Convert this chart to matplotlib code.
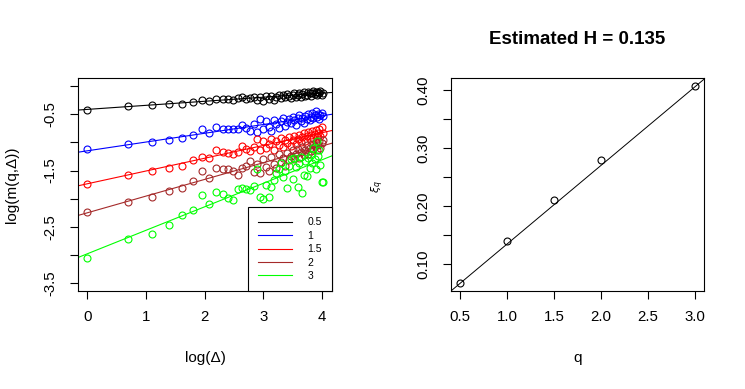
import numpy as np
import matplotlib
matplotlib.use("Agg")
import matplotlib.pyplot as plt
from matplotlib.ticker import FixedLocator

plt.rcParams['font.family'] = ['Liberation Sans', 'DejaVu Sans']
plt.rcParams['axes.unicode_minus'] = False

# ---- data ----
lags = list(range(1, 56))
q_levels = ['0.5', '1', '1.5', '2', '3']
colors = ['black', 'blue', 'red', 'brown', '#00FF00']

m_q05 = [-0.42, -0.36, -0.34, -0.32, -0.31, -0.28, -0.24, -0.27, -0.22, -0.22,
         -0.22, -0.25, -0.21, -0.19, -0.23, -0.21, -0.19, -0.25, -0.20, -0.27,
         -0.17, -0.22, -0.18, -0.24, -0.19, -0.15, -0.21, -0.16, -0.20, -0.14,
         -0.18, -0.21, -0.15, -0.12, -0.19, -0.16, -0.13, -0.20, -0.14, -0.11,
         -0.17, -0.15, -0.10, -0.13, -0.18, -0.12, -0.09, -0.14, -0.11, -0.16,
         -0.10, -0.13, -0.09, -0.15, -0.12]
m_q1 = [-1.12, -1.03, -1.00, -0.96, -0.92, -0.87, -0.77, -0.83, -0.73, -0.76,
        -0.77, -0.77, -0.76, -0.69, -0.75, -0.79, -0.67, -0.82, -0.58, -0.76,
        -0.62, -0.72, -0.79, -0.60, -0.68, -0.74, -0.62, -0.57, -0.70, -0.63,
        -0.58, -0.66, -0.55, -0.61, -0.69, -0.57, -0.52, -0.62, -0.56, -0.65,
        -0.53, -0.58, -0.50, -0.61, -0.55, -0.48, -0.57, -0.52, -0.45, -0.55,
        -0.49, -0.58, -0.51, -0.47, -0.53]
m_q15 = [-1.73, -1.58, -1.51, -1.45, -1.42, -1.31, -1.26, -1.28, -1.13, -1.17,
         -1.19, -1.20, -1.17, -1.07, -1.11, -1.15, -1.08, -0.94, -1.14, -0.97,
         -1.10, -1.02, -0.93, -1.13, -0.98, -1.05, -0.92, -1.08, -0.96, -1.01,
         -0.90, -1.06, -0.95, -0.88, -1.02, -0.93, -0.86, -0.99, -0.91, -0.84,
         -0.97, -0.89, -0.82, -0.94, -0.87, -0.80, -0.92, -0.85, -0.78, -0.90,
         -0.83, -0.76, -0.88, -0.72, -0.84]
m_q2 = [-2.24, -2.05, -1.96, -1.87, -1.80, -1.69, -1.51, -1.63, -1.45, -1.47,
        -1.48, -1.51, -1.57, -1.45, -1.41, -1.33, -1.52, -1.38, -1.55, -1.30,
        -1.44, -1.50, -1.25, -1.39, -1.46, -1.20, -1.35, -1.27, -1.41, -1.19,
        -1.32, -1.24, -1.14, -1.30, -1.21, -1.11, -1.27, -1.17, -1.08, -1.23,
        -1.13, -1.05, -1.20, -1.10, -1.16, -1.02, -1.12, -1.07, -0.99, -1.14,
        -1.04, -0.97, -1.10, -1.01, -0.95]
m_q3 = [-3.06, -2.72, -2.63, -2.47, -2.29, -2.20, -1.94, -2.09, -1.88, -1.92,
        -1.99, -2.02, -1.82, -1.80, -1.83, -1.84, -1.78, -1.47, -1.96, -2.01,
        -1.75, -1.96, -1.79, -1.66, -1.55, -1.47, -1.36, -1.62, -1.50, -1.81,
        -1.42, -1.30, -1.64, -1.27, -1.44, -1.79, -1.37, -1.25, -1.89, -1.58,
        -1.33, -1.60, -1.28, -1.46, -1.22, -1.36, -1.10, -1.30, -1.48, -0.98,
        -1.24, -1.14, -1.40, -1.70, -1.71]
series = [m_q05, m_q1, m_q15, m_q2, m_q3]

q_vals = [0.5, 1.0, 1.5, 2.0, 3.0]
zeta_q = [0.0675, 0.140, 0.210, 0.2795, 0.407]
H_est = 0.135

# ---- figure ----
W, Hpx = 745, 389
fig = plt.figure(figsize=(W / 100, Hpx / 100), dpi=100)

def ax_rect(x0, y0, x1, y1):
    return [x0 / W, 1 - y1 / Hpx, (x1 - x0) / W, (y1 - y0) / Hpx]

ax1 = fig.add_axes(ax_rect(78, 78, 332, 291))
ax2 = fig.add_axes(ax_rect(451, 78, 704, 291))

tick_fs = 10.8
lab_fs = 11

x = np.log(np.array(lags, dtype=float))
for vals, col, lab in zip(series, colors, q_levels):
    y = np.array(vals)
    ax1.plot(x, y, linestyle='none', marker='o', markerfacecolor='none',
             markeredgecolor=col, markersize=5.0, markeredgewidth=0.8)
    slope, icpt = np.polyfit(x, y, 1)
    ax1.axline((0, icpt), slope=slope, color=col, lw=0.8, label=lab)

ax1.set_xlim(-0.16, 4.167)
ax1.set_ylim(-3.637, 0.144)
ax1.xaxis.set_major_locator(FixedLocator([0, 1, 2, 3, 4]))
yt = [0, -0.5, -1, -1.5, -2, -2.5, -3, -3.5]
ax1.yaxis.set_major_locator(FixedLocator(yt))
ax1.set_yticklabels(['', '-0.5', '', '-1.5', '', '-2.5', '', '-3.5'])
ax1.set_xticklabels(['0', '1', '2', '3', '4'])

leg = ax1.legend(loc='lower right', bbox_to_anchor=(1.0, 0.0), borderaxespad=0,
                 fancybox=False, edgecolor='black', framealpha=1,
                 fontsize=7.5, handlelength=3.3, handletextpad=1.5,
                 borderpad=0.95, labelspacing=0.33)
leg.get_frame().set_linewidth(0.8)

ax1.set_xlabel('log(Δ)', fontsize=lab_fs)
ax1.set_ylabel('log(m(q,Δ))', fontsize=lab_fs)
ax1.xaxis.set_label_coords(0.5, -(358 - 291) / 213)
ax1.yaxis.set_label_coords((12 - 78) / 254, 0.5)

ax2.plot(q_vals, zeta_q, linestyle='none', marker='o', markerfacecolor='none',
         markeredgecolor='black', markersize=5.0, markeredgewidth=0.8)
ax2.axline((0, 0), slope=H_est, color='black', lw=0.7)
ax2.set_xlim(0.4, 3.1)
ax2.set_ylim(0.0539, 0.4206)
ax2.xaxis.set_major_locator(FixedLocator([0.5, 1.0, 1.5, 2.0, 2.5, 3.0]))
ax2.set_xticklabels(['0.5', '1.0', '1.5', '2.0', '2.5', '3.0'])
ax2.yaxis.set_major_locator(FixedLocator([0.10, 0.15, 0.20, 0.25, 0.30, 0.35, 0.40]))
ax2.set_yticklabels(['0.10', '', '0.20', '', '0.30', '', '0.40'])
ax2.set_xlabel('q', fontsize=lab_fs)
ax2.set_ylabel(r'$\xi_q$', fontsize=8)
ax2.xaxis.set_label_coords(0.5, -(358 - 291) / 213)
ax2.yaxis.set_label_coords((378 - 451) / 253, (291 - 187) / 213)

fig.text(577.5 / W, 1 - 40 / Hpx, 'Estimated H = %.3f' % H_est,
         fontsize=13.5, fontweight='bold', ha='center', va='center')

for ax in (ax1, ax2):
    for sp in ax.spines.values():
        sp.set_linewidth(0.8)
    ax.tick_params(axis='both', length=5.8, width=0.8, labelsize=tick_fs)
    ax.tick_params(axis='x', pad=8)
    ax.tick_params(axis='y', pad=9, labelrotation=90)
    for t in ax.get_yticklabels():
        t.set_va('center')
    ax.xaxis.label.set_va('center')
    ax.yaxis.label.set_va('center')

fig.savefig('out.png', dpi=100)
